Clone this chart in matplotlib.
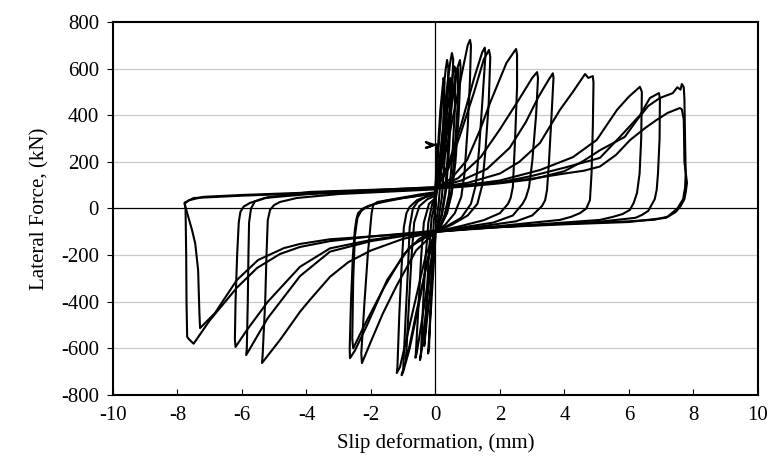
import matplotlib
matplotlib.use('Agg')
import matplotlib.pyplot as plt

#  Hysteresis half loops, (slip in mm, force in kN)
#  Positive excursions: loading to peak, unloading back to lower band
pos_a = [(0, 92), (1, 100), (2, 112), (3, 128), (4, 150), (4.6, 162), (5.1, 180),
         (5.6, 230), (6.03, 293), (6.5, 345), (6.86, 380), (7.2, 410), (7.58, 431),
         (7.64, 425), (7.7, 380), (7.72, 200), (7.8, 110), (7.76, 70), (7.72, 40),
         (7.6, 10), (7.45, -15), (7.15, -40), (6.0, -58), (4.0, -68), (2.0, -80), (0, -100)]
pos_b = [(0, 85), (1, 95), (2, 108), (3, 125), (4, 160), (4.6, 205), (5.1, 250),
         (5.87, 307), (6.25, 380), (6.6, 440), (6.96, 474), (7.36, 495), (7.5, 520),
         (7.6, 510), (7.64, 534), (7.7, 520), (7.72, 470), (7.74, 300), (7.76, 150),
         (7.74, 90), (7.68, 40), (7.5, 0), (7.2, -35), (6.8, -48), (6.0, -55),
         (4.0, -65), (2.0, -78), (0, -95)]
pos_c = [(0, 88), (1, 98), (2, 112), (3, 140), (4, 175), (5.1, 217), (5.72, 307),
         (6.34, 400), (6.65, 474), (6.93, 495), (6.96, 470), (6.95, 300), (6.9, 150),
         (6.86, 80), (6.8, 40), (6.6, -10), (6.4, -28), (6.2, -40), (5.0, -58),
         (3.0, -72), (1.0, -88), (0, -98)]
pos_d = [(0, 90), (1, 102), (2, 120), (3.24, 165), (4.26, 220), (5.0, 294),
         (5.63, 423), (6.0, 480), (6.34, 522), (6.4, 500), (6.38, 300), (6.33, 150),
         (6.25, 67), (6.15, 25), (6.03, -6), (5.8, -24), (5.5, -36), (5.1, -49),
         (3.0, -70), (1.0, -88), (0, -100)]
pos_e = [(0, 90), (1.0, 110), (2.0, 150), (2.6, 200), (3.24, 281), (3.86, 423),
         (4.26, 500), (4.64, 577), (4.74, 560), (4.88, 568), (4.9, 540), (4.88, 350),
         (4.84, 150), (4.79, 36), (4.68, 0), (4.48, -20), (4.2, -36), (3.86, -49),
         (2.0, -75), (0, -100)]
pos_f = [(0, 90), (0.8, 120), (1.6, 170), (2.3, 260), (2.8, 370), (3.2, 480),
         (3.5, 550), (3.64, 580), (3.66, 560), (3.6, 400), (3.52, 200), (3.46, 80),
         (3.4, 35), (3.3, 10), (3.0, -30), (2.5, -55), (1.5, -75), (0, -100)]
pos_g = [(0, 85), (0.7, 130), (1.4, 220), (2.0, 340), (2.6, 470), (3.0, 560),
         (3.15, 585), (3.18, 560), (3.12, 400), (3.0, 200), (2.9, 90), (2.8, 45),
         (2.7, 20), (2.4, -30), (1.8, -60), (0, -100)]
pos_h = [(0, 85), (0.5, 130), (0.98, 208), (1.38, 336), (1.69, 452), (2.2, 624),
         (2.45, 675), (2.5, 684), (2.53, 660), (2.53, 520), (2.47, 300), (2.4, 92),
         (2.33, 45), (2.25, 20), (2.0, -20), (1.5, -50), (0.8, -75), (0, -100)]
pos_i = [(0, 80), (0.4, 170), (0.8, 330), (1.2, 500), (1.5, 640), (1.66, 680),
         (1.7, 650), (1.65, 450), (1.55, 250), (1.45, 100), (1.3, 20), (1.0, -30),
         (0.5, -70), (0, -100)]
pos_j = [(0, 85), (0.4, 190), (0.8, 360), (1.2, 560), (1.45, 670), (1.53, 690),
         (1.55, 660), (1.45, 450), (1.35, 250), (1.25, 100), (1.1, 20), (0.8, -40),
         (0.3, -80), (0, -100)]
pos_k = [(0, 70), (0.3, 230), (0.6, 430), (0.85, 600), (1.0, 700), (1.07, 723),
         (1.1, 700), (1.07, 550), (1.0, 350), (0.9, 150), (0.8, 50), (0.6, -20),
         (0.3, -70), (0, -100)]
pos_l = [(0, 50), (0.2, 220), (0.45, 430), (0.65, 590), (0.76, 637), (0.78, 600),
         (0.72, 400), (0.62, 200), (0.5, 60), (0.35, -20), (0.15, -80), (0, -100)]
pos_m = [(0, 30), (0.15, 230), (0.3, 450), (0.45, 620), (0.51, 667), (0.55, 640),
         (0.5, 450), (0.42, 250), (0.33, 80), (0.2, -30), (0, -100)]
pos_n = [(-0.05, 0), (0.08, 230), (0.2, 450), (0.32, 600), (0.36, 637), (0.4, 600),
         (0.35, 400), (0.28, 200), (0.2, 50), (0.1, -40), (0, -100)]
pos_o = [(-0.05, -20), (0.05, 200), (0.15, 420), (0.25, 560), (0.28, 540),
         (0.24, 350), (0.17, 150), (0.1, 20), (0.02, -60)]
pos_p = [(0, 40), (0.2, 250), (0.42, 470), (0.58, 610), (0.62, 600), (0.6, 420),
         (0.52, 220), (0.42, 60), (0.28, -30), (0.05, -95)]
pos_q = [(0, 20), (0.12, 200), (0.3, 400), (0.42, 540), (0.46, 560), (0.45, 420),
         (0.38, 230), (0.3, 70), (0.18, -30), (0.02, -90)]
pos_r = [(0, 60), (0.25, 230), (0.5, 440), (0.66, 580), (0.7, 600), (0.69, 450),
         (0.6, 250), (0.5, 80), (0.36, -20), (0.1, -90)]

#  Negative excursions: loading to trough, unloading back to upper band
neg_a = [(0, -95), (-1, -108), (-2, -120), (-3.27, -140), (-4.2, -165), (-4.82, -195),
         (-5.53, -255), (-6.16, -340), (-7.0, -480), (-7.5, -580), (-7.65, -560),
         (-7.7, -550), (-7.72, -400), (-7.73, -200), (-7.75, 0), (-7.78, 25),
         (-7.5, 45), (-6, 55), (-4, 65), (-2, 75), (0, 88)]
neg_b = [(0, -100), (-1, -110), (-2, -120), (-3.27, -132), (-4.2, -152), (-4.7, -170),
         (-5.5, -221), (-6.16, -307), (-6.84, -449), (-7.3, -513), (-7.32, -450),
         (-7.36, -264), (-7.45, -150), (-7.55, -92), (-7.78, 20), (-7.65, 35),
         (-7.2, 50), (-6, 58), (-4, 68), (-2, 78), (0, 92)]
neg_c = [(0, -100), (-1, -115), (-2, -135), (-3.27, -171), (-4.2, -250), (-5.2, -400),
         (-5.84, -520), (-6.2, -594), (-6.22, -560), (-6.2, -400), (-6.15, -200),
         (-6.1, -60), (-6.05, -15), (-5.95, 8), (-5.75, 24), (-5.3, 45), (-3.9, 62),
         (-2, 72), (0, 85)]
neg_d = [(0, -100), (-1, -118), (-2, -140), (-3.27, -185), (-4.2, -290), (-5.2, -470),
         (-5.87, -629), (-5.85, -600), (-5.82, -400), (-5.8, -200), (-5.78, -60),
         (-5.72, 0), (-5.6, 30), (-5.2, 48), (-3.9, 71), (-2, 80), (0, 90)]
neg_e = [(0, -100), (-1, -130), (-2, -180), (-2.7, -230), (-3.27, -293), (-3.9, -393),
         (-4.2, -443), (-4.8, -560), (-5.38, -663), (-5.36, -630), (-5.28, -400),
         (-5.24, -200), (-5.2, -50), (-5.13, -6), (-5.0, 15), (-4.82, 28), (-4.3, 45),
         (-3, 62), (-1.5, 72), (0, 82)]
neg_f = [(0, -100), (-0.5, -140), (-0.8, -165), (-1.5, -307), (-2.12, -500),
         (-2.5, -610), (-2.65, -642), (-2.66, -600), (-2.62, -400), (-2.56, -200),
         (-2.5, -92), (-2.45, -45), (-2.4, -20), (-2.25, 0), (-2.1, 10), (-1.5, 35),
         (-0.5, 60), (0, 70)]
neg_g = [(0, -95), (-0.5, -130), (-1.0, -200), (-1.6, -340), (-2.2, -500),
         (-2.55, -600), (-2.58, -560), (-2.55, -300), (-2.5, -120), (-2.42, -40),
         (-2.3, -10), (-2.2, 0), (-1.9, 20), (-1, 45), (0, 65)]
neg_h = [(0, -100), (-0.6, -180), (-1.2, -330), (-1.63, -450), (-2.0, -570),
         (-2.28, -663), (-2.3, -620), (-2.2, -400), (-2.1, -200), (-2.02, -80),
         (-1.98, -20), (-1.93, 15), (-1.8, 28), (-1.5, 35), (-0.5, 55), (0, 65)]
neg_i = [(0, -100), (-0.3, -200), (-0.6, -380), (-0.9, -560), (-1.1, -680),
         (-1.2, -706), (-1.18, -680), (-1.12, -450), (-1.05, -250), (-0.98, -80),
         (-0.9, -20), (-0.8, 7), (-0.57, 36), (-0.3, 50), (0, 60)]
neg_j = [(0, -100), (-0.25, -220), (-0.5, -400), (-0.8, -600), (-1.0, -700),
         (-1.05, -715), (-1.0, -690), (-0.92, -450), (-0.85, -250), (-0.8, -80),
         (-0.7, 0), (-0.55, 30), (-0.3, 50), (0, 60)]
neg_k = [(0, -100), (-0.15, -250), (-0.3, -450), (-0.42, -600), (-0.48, -650),
         (-0.45, -620), (-0.38, -400), (-0.3, -200), (-0.22, -60), (-0.1, 20), (0, 40)]
neg_l = [(0, -120), (-0.08, -300), (-0.18, -520), (-0.23, -622), (-0.2, -600),
         (-0.15, -400), (-0.1, -200), (-0.05, -50), (0.02, 20)]
neg_m = [(0, -110), (-0.12, -300), (-0.28, -500), (-0.35, -590), (-0.33, -560),
         (-0.27, -380), (-0.2, -180), (-0.12, -40), (0, 30)]
neg_n = [(0, -105), (-0.2, -280), (-0.42, -480), (-0.58, -620), (-0.62, -640),
         (-0.6, -600), (-0.52, -400), (-0.44, -200), (-0.36, -60), (-0.2, 20), (0, 45)]
neg_o = [(0, -100), (-0.3, -260), (-0.6, -450), (-0.85, -620), (-0.92, -650),
         (-0.9, -610), (-0.82, -400), (-0.74, -200), (-0.66, -60), (-0.5, 10),
         (-0.25, 40), (0, 55)]

#  Small start loop near the origin
start_loop = [(0, 0), (0.03, 270), (-0.3, 285), (-0.12, 268), (-0.3, 260), (0.02, 275)]

pos_loops = [pos_a, pos_b, pos_c, pos_d, pos_e, pos_f, pos_g, pos_h, pos_i,
             pos_j, pos_k, pos_l, pos_m, pos_n, pos_o, pos_p, pos_q, pos_r]
neg_loops = [neg_a, neg_b, neg_c, neg_d, neg_e, neg_f, neg_g, neg_h,
             neg_i, neg_j, neg_k, neg_l, neg_m, neg_n, neg_o]

x_ticks = list(range(-10, 11, 2))
y_ticks = list(range(-800, 801, 200))

plt.rcParams['font.family'] = ['Liberation Serif', 'DejaVu Serif']
plt.rcParams['axes.unicode_minus'] = False

fig = plt.figure(figsize=(7.83, 4.74), dpi=100)
ax = fig.add_axes([0.1443, 0.1667, 0.8237, 0.7869])

#  Light horizontal grid, black zero lines
for yv in y_ticks:
    if yv not in (-800, 0, 800):
        ax.axhline(yv, color='#c8c8c8', lw=0.9, zorder=0)
ax.axhline(0, color='black', lw=0.9, zorder=1)
ax.axvline(0, color='black', lw=0.9, zorder=1)

for loop in pos_loops + neg_loops + [start_loop]:
    xs = [p[0] for p in loop]
    ys = [p[1] for p in loop]
    ax.plot(xs, ys, color='black', lw=1.5, solid_joinstyle='round', zorder=2)

ax.set_xlim(-10, 10)
ax.set_ylim(-800, 800)
ax.set_xticks(x_ticks)
ax.set_yticks(y_ticks)
ax.tick_params(axis='x', direction='in', length=4, labelsize=15, pad=8)
ax.tick_params(axis='y', direction='out', length=4, labelsize=15, pad=6)
for sp in ax.spines.values():
    sp.set_linewidth(1.5)

ax.set_xlabel('Slip deformation, (mm)', fontsize=15, labelpad=6)
ax.set_ylabel('Lateral Force, (kN)', fontsize=15, labelpad=8)

fig.savefig('out.png', dpi=100)
plt.close()
